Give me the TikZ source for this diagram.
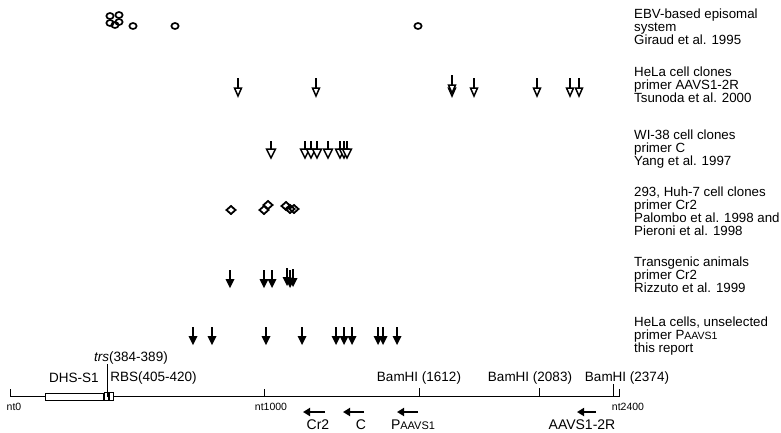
\documentclass[tikz,border=0pt]{standalone}
\usepackage{fontspec}
\setmainfont{Liberation Sans}
\usepackage{tikz}
\usetikzlibrary{arrows.meta}
\newcommand{\ntpos}[1]{10+0.254*#1}
\tikzset{
  rowlabel/.style={anchor=north west, align=left, inner sep=0pt, font=\fontsize{13.3}{13}\selectfont},
  maplabel/.style={inner sep=0pt, font=\fontsize{13.5}{13.5}\selectfont},
  ntlabel/.style={inner sep=0pt, font=\fontsize{10.5}{12}\selectfont},
  primerlabel/.style={inner sep=0pt, font=\fontsize{14}{14}\selectfont},
  axisline/.style={line width=1.4pt},
  tickline/.style={line width=0.8pt},
  primerarrow/.style={line width=2.2pt, -{Triangle[length=7pt,width=8pt]}},
  ring/.pic={\draw[line width=1.7pt] (0,0) ellipse (3.6pt and 3pt);},
  openarrow/.pic={\draw[line width=1.5pt] (0,-18) -- (0,-7); \draw[line width=1.5pt, fill=white] (-3.5,-8) -- (3.5,-8) -- (0,0) -- cycle;},
  openwide/.pic={\draw[line width=1.5pt] (0,-17) -- (0,-9); \draw[line width=1.5pt, fill=white] (-4.5,-9) -- (4.5,-9) -- (0,0) -- cycle;},
  solidarrow/.pic={\draw[line width=2pt] (0,-18) -- (0,-6); \fill (-4.5,-9) -- (4.5,-9) -- (0,0) -- cycle;},
  opendiamond/.pic={\draw[line width=1.8pt] (-4.5,0) -- (0,-4) -- (4.5,0) -- (0,4) -- cycle;}
}
\begin{document}
\begin{tikzpicture}[x=1pt, y=-1pt]
  \useasboundingbox (0,0) rectangle (781,432);

  % integration sites, one row per study
  \foreach \x/\y in {110/16,119/15,110/23,119/22,115/25,133/26,175/26,418/26}
    \pic at (\x,\y) {ring};
  \foreach \x in {238,316,452,474,537,570,579}
    \pic at (\x,96) {openarrow};
  \pic at (452,93) {openarrow};
  \foreach \x in {271,305,311,317,328,340,344,347}
    \pic at (\x,158) {openwide};
  \foreach \x/\y in {231/210,264/210,268/205,286/206,290/209,294/209}
    \pic at (\x,\y) {opendiamond};
  \foreach \x/\y in {230/288,264/288,272/288,287/286,290/288,293/287}
    \pic at (\x,\y) {solidarrow};
  \foreach \x in {193,212,266,302,336,344,352,378,383,397}
    \pic at (\x,345) {solidarrow};

  % study labels
  \node[rowlabel] (ebv) at (634,8.5) {EBV-based episomal\\system\\Giraud et al. 1995};
  \node[rowlabel] (hela) at (634,66.5) {HeLa cell clones\\primer AAVS1-2R\\Tsunoda et al. 2000};
  \node[rowlabel] (wi38) at (634,129.5) {WI-38 cell clones\\primer C\\Yang et al. 1997};
  \node[rowlabel] (huh7) at (634,186.5) {293, Huh-7 cell clones\\primer Cr2\\Palombo et al. 1998 and\\Pieroni et al. 1998};
  \node[rowlabel] (transgenic) at (634,256.5) {Transgenic animals\\primer Cr2\\Rizzuto et al. 1999};
  \node[rowlabel] (report) at (634,316.5) {HeLa cells, unselected\\primer P{\fontsize{10.5}{10.5}\selectfont AAVS1}\\this report};

  % AAVS1 map
  \coordinate (nt0) at (\ntpos{0},396.5);
  \coordinate (nt1000) at (\ntpos{1000},396.5);
  \coordinate (nt2400) at (\ntpos{2400},396.5);
  \draw[axisline] (nt0) -- (nt2400);
  \draw[tickline] (nt0) -- ++(0,-8);
  \draw[tickline] (nt1000) -- ++(0,-8);
  \draw[tickline] (nt2400) -- ++(0,-8);
  \node[ntlabel] (lab0) at (14,407) {nt0};
  \node[ntlabel] (lab1000) at (271,407) {nt1000};
  \node[ntlabel] (lab2400) at (628,407) {nt2400};

  \draw[tickline, fill=white] (\ntpos{138},393) rectangle (\ntpos{366},400);
  \draw[tickline, fill=white] (104,392.5) rectangle (108,400);
  \draw[tickline, fill=white] (109,392.5) rectangle (113,400);
  \node[maplabel] (dhs) at (74,378) {DHS-S1};
  \node[maplabel] (rbs) at (153.5,378) {RBS(405-420)};
  \node[maplabel] (trs) at (131,358) {\textit{trs}(384-389)};
  \coordinate (trssite) at (107.5,397);
  \draw[tickline] (trssite) -- (trssite |- trs.south);

  \foreach \site/\lx in {1612/419,2083/530,2374/627} {
    \draw[tickline] (\ntpos{\site},396.5) -- ++(0,-9);
    \node[maplabel] (bam\site) at (\lx,378) {BamHI (\site)};
  }
  \draw[tickline] (\ntpos{2374},388) -- ++(0,-4);

  % primers
  \node[primerlabel] (cr2) at (318,425) {Cr2};
  \node[primerlabel] (c) at (361,425) {C};
  \node[primerlabel] (paavs) at (413,425) {P{\fontsize{11}{11}\selectfont AAVS1}};
  \node[primerlabel] (r2) at (582,425) {AAVS1-2R};
  \draw[primerarrow] (325,412) -- (303,412);
  \draw[primerarrow] (364,412) -- (343,412);
  \draw[primerarrow] (418,412) -- (397,412);
  \draw[primerarrow] (596,412) -- (577,412);
\end{tikzpicture}
\end{document}
